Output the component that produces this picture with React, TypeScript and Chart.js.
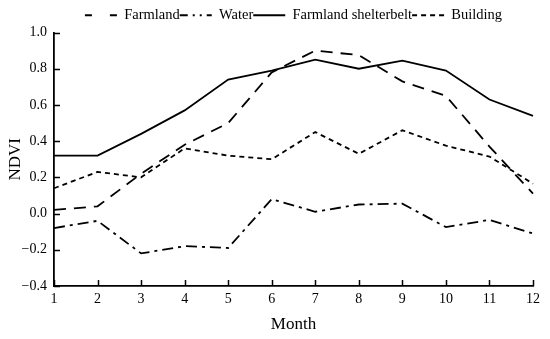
import { useEffect, useRef } from "react";
import { Chart, registerables } from "chart.js";
Chart.register(...registerables);

const months = ["1", "2", "3", "4", "5", "6", "7", "8", "9", "10", "11", "12"];
const farmland = [0.02, 0.04, 0.22, 0.38, 0.5, 0.78, 0.9, 0.875, 0.73, 0.65, 0.37, 0.11];
const water = [-0.08, -0.04, -0.22, -0.18, -0.19, 0.08, 0.01, 0.05, 0.055, -0.075, -0.035, -0.11];
const shelterbelt = [0.32, 0.32, 0.44, 0.57, 0.74, 0.79, 0.85, 0.8, 0.845, 0.79, 0.63, 0.54];
const building = [0.14, 0.23, 0.2, 0.36, 0.32, 0.3, 0.45, 0.33, 0.46, 0.375, 0.315, 0.165];
const yTicks = [-0.4, -0.2, 0, 0.2, 0.4, 0.6, 0.8, 1.0];

const FONT = "'Liberation Serif', 'Times New Roman', serif";

const legendDashes: Record<string, number[]> = {
  Farmland: [7, 18],
  Water: [8, 5, 2, 5, 2, 5],
  "Farmland shelterbelt": [],
  Building: [5, 4],
};

const innerTicks = {
  id: "innerTicks",
  afterDatasetsDraw(chart: any) {
    const ctx: CanvasRenderingContext2D = chart.ctx;
    const xs = chart.scales["x"];
    const ys = chart.scales["y"];
    const area = chart.chartArea;
    ctx.save();
    ctx.strokeStyle = "#000000";
    ctx.lineWidth = 1.5;
    ctx.setLineDash([]);
    ctx.beginPath();
    months.forEach((_m, i) => {
      const px = Math.round(xs.getPixelForValue(i)) + 0.5;
      ctx.moveTo(px, area.bottom);
      ctx.lineTo(px, area.bottom - 6);
    });
    yTicks.forEach((v) => {
      const py = Math.round(ys.getPixelForValue(v)) + 0.5;
      ctx.moveTo(area.left, py);
      ctx.lineTo(area.left + 6, py);
    });
    ctx.stroke();
    ctx.restore();
  },
};

export default function App() {
  const ref = useRef<HTMLCanvasElement | null>(null);
  useEffect(() => {
    if (!ref.current) return;
    const mk = (label: string, data: number[], dash: number[]) => ({
      label,
      data,
      borderColor: "#000",
      backgroundColor: "#000",
      borderWidth: 1.8,
      borderDash: dash,
      pointRadius: 0,
      tension: 0,
      fill: false,
    });
    const chart = new Chart(ref.current, {
      type: "line",
      data: {
        labels: months,
        datasets: [
          mk("Farmland", farmland, [12, 8]),
          mk("Water", water, [11, 5, 3, 5]),
          mk("Farmland shelterbelt", shelterbelt, []),
          mk("Building", building, [5, 4]),
        ],
      },
      plugins: [innerTicks],
      options: {
        animation: false,
        responsive: false,
        maintainAspectRatio: false,
        layout: { padding: { left: 0, right: 17, top: 8, bottom: 0 } },
        plugins: {
          tooltip: { enabled: false },
          legend: {
            position: "top",
            fullSize: false,
            labels: {
              usePointStyle: true,
              pointStyle: "line",
              pointStyleWidth: 32,
              boxHeight: 14,
              padding: 0,
              color: "#000",
              font: { family: FONT, size: 14.5 },
              generateLabels: (chart: any) => {
                const items = Chart.defaults.plugins.legend.labels.generateLabels(chart);
                return items.map((it: any) => ({
                  ...it,
                  lineDash: legendDashes[it.text] || [],
                  lineWidth: 2,
                  pointStyle: "line",
                }));
              },
            },
          },
        },
        scales: {
          x: {
            grid: { drawOnChartArea: false, drawTicks: false },
            border: { display: true, color: "#000", width: 1.8 },
            ticks: { color: "#000", padding: 5, font: { family: FONT, size: 14 }, maxRotation: 0 },
            title: { display: true, text: "Month", color: "#000", font: { family: FONT, size: 17 }, padding: { top: 4, bottom: 4 } },
            afterFit: (s: any) => { s.height = 53; },
          },
          y: {
            min: -0.4,
            max: 1.0,
            grid: { drawOnChartArea: false, drawTicks: false },
            border: { display: true, color: "#000", width: 1.8 },
            ticks: {
              stepSize: 0.2,
              color: "#000",
              padding: 7,
              font: { family: FONT, size: 14 },
              callback: (v: any) => {
                const r = Math.round(Number(v) * 10) / 10;
                return (r < 0 ? "\u2212" : "") + Math.abs(r).toFixed(1);
              },
            },
            title: { display: true, text: "NDVI", color: "#000", font: { family: FONT, size: 17 }, padding: { top: 5, bottom: 4 } },
            afterFit: (s: any) => { s.width = 54; },
          },
        },
      },
    } as any);
    return () => chart.destroy();
  }, []);
  return (
    <div style={{ position: "fixed", left: 0, top: 0, width: 550, height: 339, background: "#fff" }}>
      <canvas ref={ref} width={550} height={339} style={{ width: 550, height: 339 }} />
    </div>
  );
}
